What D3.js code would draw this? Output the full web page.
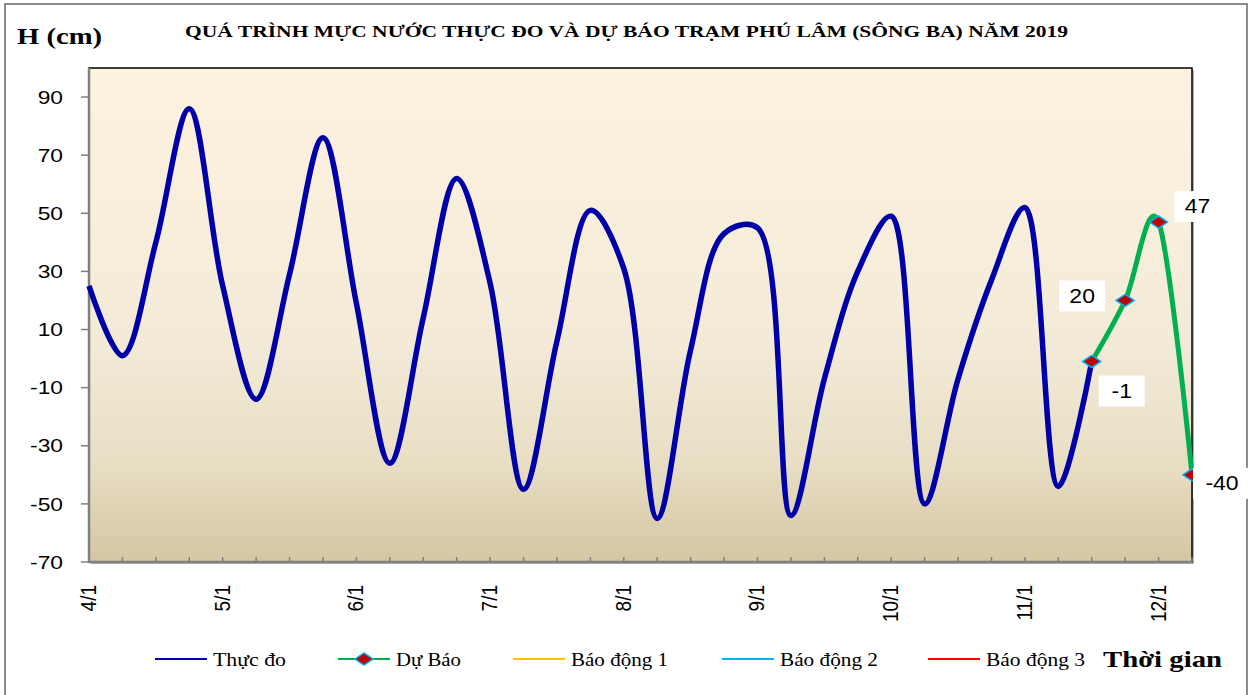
<!DOCTYPE html>
<html>
<head>
<meta charset="utf-8">
<script src="https://cdn.jsdelivr.net/npm/d3@7"></script>
<style>
  body { margin: 0; background: #fff; }
  svg { display: block; }
</style>
</head>
<body>
<svg id="chart"></svg>
<script>
// mực nước thực đo, mỗi 6 giờ từ 0h ngày 4/1
const observed = [25, 1, 40, 86, 25, -14, 29, 76, 19, -36, 14, 62, 26, -45, 6, 51,
  31, -55, 3, 43, 45, -54, -7, 30, 49, -50, -7, 27, 52, -44, -1];
// dự báo, mỗi 6 giờ từ 12h ngày 11/1
const forecast = [-1, 20, 47, -40];
const forecastStart = 180; // giờ
const stepHours = 6;
const dayLabels = ['4/1', '5/1', '6/1', '7/1', '8/1', '9/1', '10/1', '11/1', '12/1'];
const yTicks = [-70, -50, -30, -10, 10, 30, 50, 70, 90];
const legendNames = ['Thực đo', 'Dự Báo', 'Báo động 1', 'Báo động 2', 'Báo động 3'];
const legendColors = ['#0000a8', '#00b050', '#ffc000', '#00b0f0', '#ff0000'];
// vị trí nhãn số liệu so với điểm (px)
const labelOffsets = [[30, 29], [-43, -5], [39, -16], [30, 8]];

const W = 1253, H = 695;
const margin = { top: 68, right: 61, bottom: 133, left: 89 };

const svg = d3.select('#chart').attr('width', W).attr('height', H);

// khung ngoài
svg.append('rect')
  .attr('x', 5).attr('y', 4).attr('width', 1242).attr('height', 700)
  .attr('fill', '#fff').attr('stroke', '#8c8c8c').attr('stroke-width', 2);

const x = d3.scaleLinear()
  .domain([0, 198])
  .range([margin.left, W - margin.right]);
const y = d3.scaleLinear()
  .domain([-70, 100])
  .range([H - margin.bottom, margin.top]);

const defs = svg.append('defs');
const grad = defs.append('linearGradient')
  .attr('id', 'bg').attr('x1', 0).attr('y1', 0).attr('x2', 0).attr('y2', 1);
grad.append('stop').attr('offset', '0%').attr('stop-color', '#fdf2df');
grad.append('stop').attr('offset', '55%').attr('stop-color', '#f3ebd8');
grad.append('stop').attr('offset', '80%').attr('stop-color', '#e8dec4');
grad.append('stop').attr('offset', '100%').attr('stop-color', '#d5c6a3');

const x0 = x.range()[0], x1 = x.range()[1];
const yTop = y.range()[1], yBot = y.range()[0];
const sans = 'Liberation Sans, Arial, sans-serif';
const serif = 'Liberation Serif, Times New Roman, serif';

// bóng + nền vùng vẽ
svg.append('rect')
  .attr('x', x0 + 2).attr('y', yTop + 2)
  .attr('width', x1 - x0).attr('height', yBot - yTop)
  .attr('fill', '#b5b5b5');
svg.append('rect')
  .attr('x', x0).attr('y', yTop)
  .attr('width', x1 - x0).attr('height', yBot - yTop)
  .attr('fill', 'url(#bg)')
  .attr('stroke', '#000').attr('stroke-width', 1.5);

// trục y
const yAxis = svg.append('g');
yAxis.append('line')
  .attr('x1', x0).attr('x2', x0).attr('y1', yTop).attr('y2', yBot)
  .attr('stroke', '#808080').attr('stroke-width', 2.5);
const yt = yAxis.selectAll('g.tick').data(yTicks).enter().append('g');
yt.append('line')
  .attr('x1', x0 - 8).attr('x2', x0)
  .attr('y1', d => y(d)).attr('y2', d => y(d))
  .attr('stroke', '#808080').attr('stroke-width', 1.5);
yt.append('text')
  .attr('transform', d => 'translate(63,' + y(d) + ')scale(1.2,1)')
  .attr('dy', '0.35em')
  .attr('text-anchor', 'end')
  .attr('font-family', sans)
  .attr('font-size', 19)
  .text(d => d);

// trục x
const xAxis = svg.append('g');
xAxis.append('line')
  .attr('x1', x0).attr('x2', x1).attr('y1', yBot).attr('y2', yBot)
  .attr('stroke', '#808080').attr('stroke-width', 2.5);
xAxis.selectAll('line.minor')
  .data(d3.range(stepHours, 198 + 1, stepHours))
  .enter().append('line')
  .attr('x1', d => x(d)).attr('x2', d => x(d))
  .attr('y1', yBot - 5).attr('y2', yBot)
  .attr('stroke', '#808080').attr('stroke-width', 1.5);
xAxis.selectAll('text')
  .data(dayLabels)
  .enter().append('text')
  .attr('transform', (d, i) => 'translate(' + (x(i * 24) + 7) + ',' + (yBot + 23) + ')rotate(-90)scale(1,1.2)')
  .attr('text-anchor', 'end')
  .attr('font-family', sans)
  .attr('font-size', 19)
  .text(d => d);

// đường
const lineObs = d3.line()
  .x(d => x(d[0]))
  .y(d => y(d[1]))
  .curve(d3.curveCatmullRom.alpha(0.5));
const lineFc = d3.line()
  .x(d => x(d[0]))
  .y(d => y(d[1]))
  .curve(d3.curveCardinal.tension(0));

const obsPts = observed.map((v, i) => [i * stepHours, v]);
const fcPts = forecast.map((v, i) => [forecastStart + i * stepHours, v]);

svg.append('path')
  .datum(obsPts)
  .attr('d', lineObs)
  .attr('fill', 'none')
  .attr('stroke', legendColors[0])
  .attr('stroke-width', 5.5)
  .attr('stroke-linejoin', 'round');

svg.append('path')
  .datum(fcPts)
  .attr('d', lineFc)
  .attr('fill', 'none')
  .attr('stroke', legendColors[1])
  .attr('stroke-width', 5)
  .attr('stroke-linejoin', 'round');

function diamond(sel, cx, cy) {
  sel.append('path')
    .attr('d', 'M' + (cx - 9) + ',' + cy + 'L' + cx + ',' + (cy - 6) + 'L' + (cx + 9) + ',' + cy + 'L' + cx + ',' + (cy + 6) + 'Z')
    .attr('fill', '#c00000')
    .attr('stroke', '#00b0f0')
    .attr('stroke-width', 1.5);
}

const marks = svg.append('g');
fcPts.forEach(p => diamond(marks, x(p[0]), y(p[1])));

// nhãn số liệu
const labels = svg.append('g');
fcPts.forEach((p, i) => {
  const cx = x(p[0]) + labelOffsets[i][0];
  const cy = y(p[1]) + labelOffsets[i][1];
  const w = String(p[1]).length * 12 + 22;
  labels.append('rect')
    .attr('x', cx - w / 2).attr('y', cy - 15)
    .attr('width', w).attr('height', 31)
    .attr('fill', '#fff');
  labels.append('text')
    .attr('transform', 'translate(' + cx + ',' + cy + ')scale(1.15,1)')
    .attr('dy', '0.36em')
    .attr('text-anchor', 'middle')
    .attr('font-family', sans)
    .attr('font-size', 20)
    .text(p[1]);
});

// tiêu đề
svg.append('text')
  .attr('x', 185).attr('y', 37)
  .attr('font-family', serif)
  .attr('font-weight', 700)
  .attr('font-size', 17)
  .attr('textLength', 883)
  .attr('lengthAdjust', 'spacingAndGlyphs')
  .text('QUÁ TRÌNH MỰC NƯỚC THỰC ĐO VÀ DỰ BÁO TRẠM PHÚ LÂM (SÔNG BA) NĂM 2019');

svg.append('text')
  .attr('x', 17).attr('y', 44)
  .attr('font-family', serif)
  .attr('font-weight', 700)
  .attr('font-size', 24)
  .attr('textLength', 85)
  .attr('lengthAdjust', 'spacingAndGlyphs')
  .text('H (cm)');

// chú giải
const legendX = [155, 338, 513, 722, 928];
const legendW = [73, 65, 97, 98, 99];
const legend = svg.append('g');
legendNames.forEach((name, i) => {
  const lx = legendX[i];
  legend.append('line')
    .attr('x1', lx).attr('x2', lx + 52).attr('y1', 659).attr('y2', 659)
    .attr('stroke', legendColors[i]).attr('stroke-width', 2);
  if (i === 1) diamond(legend, lx + 26, 659);
  legend.append('text')
    .attr('x', lx + 58).attr('y', 666)
    .attr('font-family', serif)
    .attr('font-size', 19)
    .attr('textLength', legendW[i])
    .attr('lengthAdjust', 'spacingAndGlyphs')
    .text(name);
});

svg.append('text')
  .attr('x', 1103).attr('y', 667)
  .attr('font-family', serif)
  .attr('font-weight', 700)
  .attr('font-size', 24)
  .attr('textLength', 119)
  .attr('lengthAdjust', 'spacingAndGlyphs')
  .text('Thời gian');
</script>
</body>
</html>
